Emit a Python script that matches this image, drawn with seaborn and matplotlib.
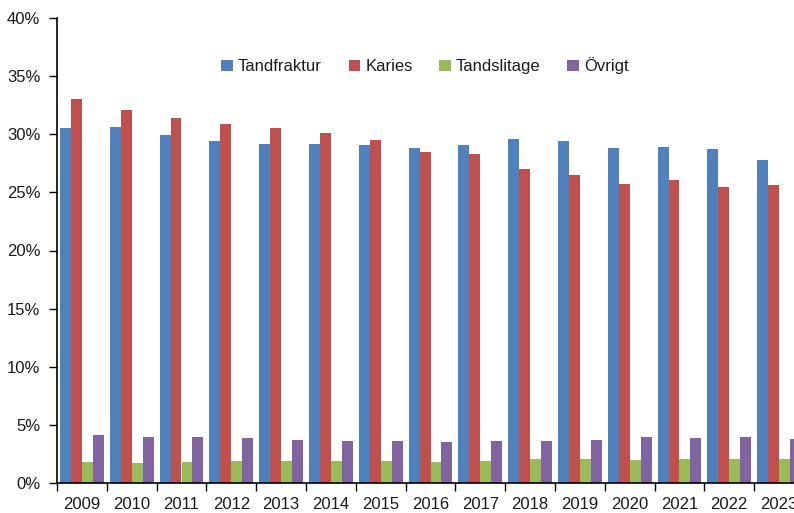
import numpy as np
import pandas as pd
import matplotlib
matplotlib.use("Agg")
import matplotlib.pyplot as plt
from matplotlib.ticker import FixedLocator, FuncFormatter
import seaborn as sns

sns.set_style("white")
plt.rcParams['font.family'] = ['Liberation Sans', 'DejaVu Sans']
plt.rcParams['text.color'] = '#1a1a1a'
plt.rcParams['xtick.color'] = '#1a1a1a'
plt.rcParams['ytick.color'] = '#1a1a1a'

years = [str(y) for y in range(2009, 2024)]
tandfraktur = [30.5, 30.6, 29.9, 29.45, 29.2, 29.15, 29.05, 28.8, 29.1, 29.55, 29.4, 28.8, 28.9, 28.7, 27.75]
karies = [33.0, 32.1, 31.4, 30.9, 30.5, 30.1, 29.5, 28.5, 28.3, 27.0, 26.5, 25.7, 26.1, 25.5, 25.65]
tandslitage = [1.8, 1.75, 1.8, 1.87, 1.87, 1.87, 1.87, 1.84, 1.9, 2.05, 2.08, 2.0, 2.08, 2.08, 2.1]
ovrigt = [4.1, 3.95, 4.0, 3.9, 3.7, 3.65, 3.6, 3.55, 3.64, 3.64, 3.66, 3.93, 3.84, 3.93, 3.78]

series = ["Tandfraktur", "Karies", "Tandslitage", "Övrigt"]
colors = ["#4F81BD", "#C0504D", "#9BBB59", "#8064A2"]

df = pd.DataFrame({"year": years * 4,
                   "serie": np.repeat(series, len(years)),
                   "value": tandfraktur + karies + tandslitage + ovrigt})

fig = plt.figure(figsize=(7.94, 5.13), dpi=100)
ax = fig.add_axes([57/794, 30/513, 747/794, 465/513])

sns.barplot(data=df, x="year", y="value", hue="serie", palette=colors,
            width=0.88, gap=0, saturation=1, linewidth=0, ax=ax, legend=True)

ax.set_ylim(0, 40)
ax.set_xlim(-0.5, len(years) - 0.5)
ax.set_xlabel("")
ax.set_ylabel("")
ax.set_yticks(range(0, 41, 5))
ax.yaxis.set_major_formatter(FuncFormatter(lambda v, p: f"{int(v)}%"))

# category boundaries as major ticks, labels on minor ticks
ax.xaxis.set_major_locator(FixedLocator(np.arange(-0.5, len(years), 1)))
ax.xaxis.set_minor_locator(FixedLocator(np.arange(len(years))))
ax.set_xticklabels([], minor=False)
ax.set_xticklabels(years, minor=True)
ax.tick_params(axis="x", which="major", length=6, width=1, direction="out", color="black")
ax.tick_params(axis="x", which="minor", length=0, labelsize=12, pad=10)
ax.tick_params(axis="y", length=6, width=1, direction="out", color="black", labelsize=12, pad=6)
ax.tick_params(left=True, bottom=True)

for s in ["top", "right"]:
    ax.spines[s].set_visible(False)
for s in ["left", "bottom"]:
    ax.spines[s].set_color("black")
    ax.spines[s].set_linewidth(1.2)

handles, labels = ax.get_legend_handles_labels()
ax.get_legend().remove()
fig.legend(handles, labels, loc="center", bbox_to_anchor=(425/794, 1 - 66/513),
           ncol=4, frameon=False, fontsize=12, handlelength=0.7, handleheight=0.7,
           handletextpad=0.3, columnspacing=1.6)

fig.savefig("out.png", dpi=100)
